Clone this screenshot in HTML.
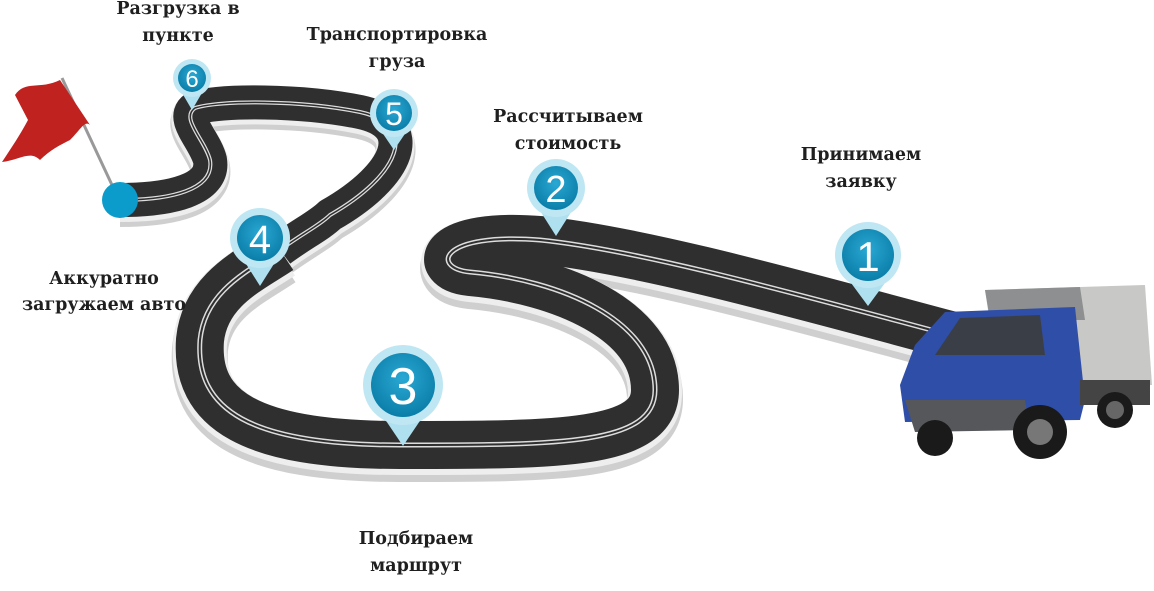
<!DOCTYPE html>
<html><head><meta charset="utf-8"><style>
html,body{margin:0;padding:0;background:#fff;}
.t{font-family:"DejaVu Serif","Liberation Serif",serif;font-weight:bold;font-size:17.5px;fill:#1f1f1f;text-anchor:middle;}
.n{font-family:"Liberation Sans",sans-serif;fill:#fff;text-anchor:middle;}
</style></head><body>
<svg width="1154" height="586" viewBox="0 0 1154 586" xmlns="http://www.w3.org/2000/svg">
<defs>
<radialGradient id="pg" cx="50%" cy="40%" r="60%"><stop offset="0" stop-color="#2aa8d4"/><stop offset="1" stop-color="#0a7ea8"/></radialGradient>
<path id="a" d="M950,335 C800,295 640,250 540,240 C440,232 430,268 470,272 C560,280 655,320 655,390 C655,445 560,445 400,445 C250,445 195,410 200,340 C205,290 250,270 280,250"/>
<path id="b" d="M280,250 C300,235 320,225 330,215 C400,175 420,125 360,112 C300,100 220,100 195,108 C180,118 205,140 210,160 C215,190 170,200 120,200"/>
</defs>
<g fill="none" stroke-linejoin="round">
<use href="#a" stroke="#cfcfcf" stroke-width="56" transform="translate(0,9)"/>
<use href="#b" stroke="#cfcfcf" stroke-width="40" transform="translate(0,7)"/>
<use href="#a" stroke="#eeeeee" stroke-width="54" transform="translate(0,3)"/>
<use href="#b" stroke="#eeeeee" stroke-width="38" transform="translate(0,3)"/>
<use href="#b" stroke="#2f2f2f" stroke-width="34"/>
<use href="#a" stroke="#2f2f2f" stroke-width="48"/>
<use href="#a" stroke="#ddd" stroke-width="5"/>
<use href="#b" stroke="#ddd" stroke-width="4"/>
<use href="#a" stroke="#2f2f2f" stroke-width="2"/>
<use href="#b" stroke="#2f2f2f" stroke-width="1.5"/>
</g>
<!-- flag -->
<line x1="62" y1="78" x2="112" y2="185" stroke="#999" stroke-width="3"/>
<path d="M60,80 C40,90 25,80 15,95 L28,120 C20,135 10,150 2,162 C20,160 30,150 40,160 C50,150 60,145 70,140 C80,130 85,120 90,125 Z" fill="#c0221f"/>
<circle cx="120" cy="200" r="18" fill="#0c9ccb"/>
<!-- truck -->
<path d="M985,290 L1145,285 L1152,385 L1000,390 Z" fill="#c8c8c6"/>
<path d="M985,290 L1080,287 L1085,320 L990,320 Z" fill="#8d8f90"/>
<path d="M945,312 L1075,307 L1085,400 L1080,420 L905,422 L900,385 L915,345 Z" fill="#2f4ea8"/>
<path d="M960,318 L1040,315 L1045,355 L935,355 Z" fill="#3a3f47"/>
<path d="M905,400 L1025,400 L1030,430 L915,432 Z" fill="#55575a"/>
<rect x="1080" y="380" width="70" height="25" fill="#444"/>
<circle cx="1040" cy="432" r="27" fill="#1a1a1a"/><circle cx="1040" cy="432" r="13" fill="#777"/>
<circle cx="935" cy="438" r="18" fill="#1a1a1a"/>
<circle cx="1115" cy="410" r="18" fill="#1a1a1a"/><circle cx="1115" cy="410" r="9" fill="#666"/>
<!-- pins -->
<g>
<path d="M840,268 L868,306 L896,268 Z" fill="#aee0ef"/><circle cx="868" cy="255" r="33" fill="#bfe7f3"/><circle cx="868" cy="255" r="26" fill="url(#pg)"/><text x="868" y="271" class="n" font-size="42">1</text>
<path d="M532,198 L556,236 L580,198 Z" fill="#aee0ef"/><circle cx="556" cy="188" r="29" fill="#bfe7f3"/><circle cx="556" cy="188" r="22" fill="url(#pg)"/><text x="556" y="202" class="n" font-size="38">2</text>
<path d="M372,400 L403,446 L434,400 Z" fill="#aee0ef"/><circle cx="403" cy="385" r="40" fill="#bfe7f3"/><circle cx="403" cy="385" r="32" fill="url(#pg)"/><text x="403" y="404" class="n" font-size="52">3</text>
<path d="M236,248 L260,286 L284,248 Z" fill="#aee0ef"/><circle cx="260" cy="238" r="30" fill="#bfe7f3"/><circle cx="260" cy="238" r="23" fill="url(#pg)"/><text x="260" y="253" class="n" font-size="40">4</text>
<path d="M375,122 L394,150 L413,122 Z" fill="#aee0ef"/><circle cx="394" cy="113" r="24" fill="#bfe7f3"/><circle cx="394" cy="113" r="18" fill="url(#pg)"/><text x="394" y="125" class="n" font-size="32">5</text>
<path d="M178,86 L192,110 L206,86 Z" fill="#aee0ef"/><circle cx="192" cy="78" r="19" fill="#bfe7f3"/><circle cx="192" cy="78" r="14" fill="url(#pg)"/><text x="192" y="87" class="n" font-size="24">6</text>
</g>
<!-- labels -->
<text class="t" x="178" y="14">Разгрузка в</text><text class="t" x="178" y="41">пункте</text>
<text class="t" x="397" y="40">Транспортировка</text><text class="t" x="397" y="67">груза</text>
<text class="t" x="568" y="122">Рассчитываем</text><text class="t" x="568" y="149">стоимость</text>
<text class="t" x="861" y="160">Принимаем</text><text class="t" x="861" y="187">заявку</text>
<text class="t" x="104" y="284">Аккуратно</text><text class="t" x="104" y="310">загружаем авто</text>
<text class="t" x="416" y="544">Подбираем</text><text class="t" x="416" y="571">маршрут</text>
</svg>
</body></html>
